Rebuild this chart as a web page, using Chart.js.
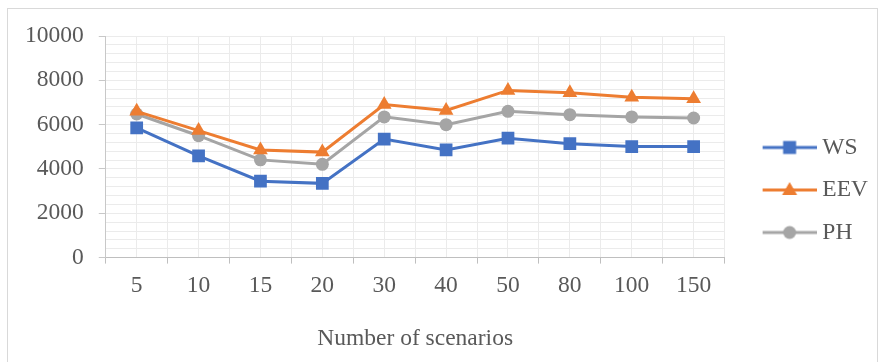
<!DOCTYPE html>
<html>
<head>
<meta charset="utf-8">
<script src="https://cdn.jsdelivr.net/npm/chart.js@4"></script>
<style>
  html, body { margin: 0; padding: 0; background: #fff; }
  #frame { position: absolute; left: 7px; top: 8px; width: 871px; height: 360px; border: 1px solid #d9d9d9; box-sizing: border-box; }
  #wrap { position: absolute; left: 0; top: 0; width: 881px; height: 362px; }
</style>
</head>
<body>
<div id="frame"></div>
<div id="wrap"><canvas id="chart"></canvas></div>
<script>
const categories = ['5', '10', '15', '20', '30', '40', '50', '80', '100', '150'];
const wsValues = [5850, 4590, 3450, 3350, 5350, 4860, 5390, 5140, 5010, 5010];
const eevValues = [6600, 5730, 4860, 4760, 6910, 6640, 7545, 7440, 7240, 7170];
const phValues = [6480, 5500, 4410, 4210, 6350, 6000, 6600, 6450, 6350, 6300];
const yTicks = [0, 2000, 4000, 6000, 8000, 10000];

const textColor = '#595959';
const font = { family: '"Liberation Serif", "Times New Roman", serif', size: 23.5 };

// points sit in the middle of each category slot on a 0..n linear axis
const toPoints = (values) => values.map((v, i) => ({ x: i + 0.5, y: v }));

// legend swatch: line with the marker on top, drawn at the right end of the box
const SWATCH_BOX = 67;
const SWATCH_W = SWATCH_BOX + 12;
function swatch(ds) {
    const c = document.createElement('canvas');
    c.width = SWATCH_W;
    c.height = 22;
    const g = c.getContext('2d');
    const x0 = SWATCH_W - 54;
    const mid = x0 + 27;
    g.strokeStyle = ds.borderColor;
    g.lineWidth = 3;
    g.beginPath();
    g.moveTo(x0, 11);
    g.lineTo(SWATCH_W, 11);
    g.stroke();
    g.fillStyle = ds.borderColor;
    g.beginPath();
    if (ds.pointStyle === 'rect') {
        g.rect(mid - 6.5, 11 - 6.5, 13, 13);
    } else if (ds.pointStyle === 'triangle') {
        g.moveTo(mid, 3);
        g.lineTo(mid + 7.5, 16);
        g.lineTo(mid - 7.5, 16);
        g.closePath();
    } else {
        g.arc(mid, 11, 6.5, 0, Math.PI * 2);
    }
    g.fill();
    return c;
}

const ctx = document.getElementById('chart').getContext('2d');
new Chart(ctx, {
    type: 'line',
    data: {
        datasets: [{
            label: 'WS',
            data: toPoints(wsValues),
            borderColor: '#4472C4',
            backgroundColor: '#4472C4',
            pointStyle: 'rect',
            pointRadius: 9
        }, {
            label: 'EEV',
            data: toPoints(eevValues),
            borderColor: '#ED7D31',
            backgroundColor: '#ED7D31',
            pointStyle: 'triangle',
            pointRadius: 8.5
        }, {
            label: 'PH',
            data: toPoints(phValues),
            borderColor: '#A5A5A5',
            backgroundColor: '#A5A5A5',
            pointStyle: 'circle',
            pointRadius: 6.5
        }]
    },
    options: {
        responsive: true,
        maintainAspectRatio: false,
        animation: false,
        datasets: {
            line: { borderWidth: 3, pointBorderWidth: 0, tension: 0 }
        },
        layout: {
            padding: { left: 10, top: 36, right: 3, bottom: 18 }
        },
        scales: {
            x: {
                type: 'linear',
                min: 0,
                max: categories.length,
                afterBuildTicks: (scale) => {
                    const ticks = [];
                    for (let v = 0; v <= categories.length; v += 0.5) ticks.push({ value: v });
                    scale.ticks = ticks;
                },
                ticks: {
                    autoSkip: false,
                    maxRotation: 0,
                    color: textColor,
                    font: font,
                    padding: 8,
                    callback: (v) => Number.isInteger(v) ? '' : categories[Math.floor(v)]
                },
                grid: {
                    color: '#ebebeb',
                    tickLength: 6,
                    tickColor: (c) => Number.isInteger(c.tick.value) ? '#bfbfbf' : 'rgba(0,0,0,0)'
                },
                border: { color: '#bfbfbf', width: 1 },
                title: {
                    display: true,
                    text: 'Number of scenarios',
                    color: textColor,
                    font: font,
                    padding: { top: 17, bottom: -9 }
                }
            },
            y: {
                min: 0,
                max: 10000,
                ticks: {
                    stepSize: 400,
                    autoSkip: false,
                    color: textColor,
                    font: font,
                    padding: 15,
                    callback: (v) => yTicks.includes(v) ? String(v) : ''
                },
                grid: {
                    color: '#ebebeb',
                    tickLength: 7,
                    tickColor: (c) => yTicks.includes(c.tick.value) ? '#c8c8c8' : 'rgba(0,0,0,0)'
                },
                border: { color: '#c8c8c8', width: 1 }
            }
        },
        plugins: {
            legend: {
                position: 'right',
                labels: {
                    usePointStyle: true,
                    pointStyleWidth: SWATCH_BOX,
                    padding: 19,
                    color: textColor,
                    font: font,
                    generateLabels: (chart) => chart.data.datasets.map((ds, i) => ({
                        text: ds.label,
                        pointStyle: swatch(ds),
                        fillStyle: ds.borderColor,
                        strokeStyle: ds.borderColor,
                        lineWidth: 0,
                        hidden: false,
                        datasetIndex: i,
                        fontColor: textColor
                    }))
                }
            },
            tooltip: { enabled: false }
        }
    }
});
</script>
</body>
</html>
